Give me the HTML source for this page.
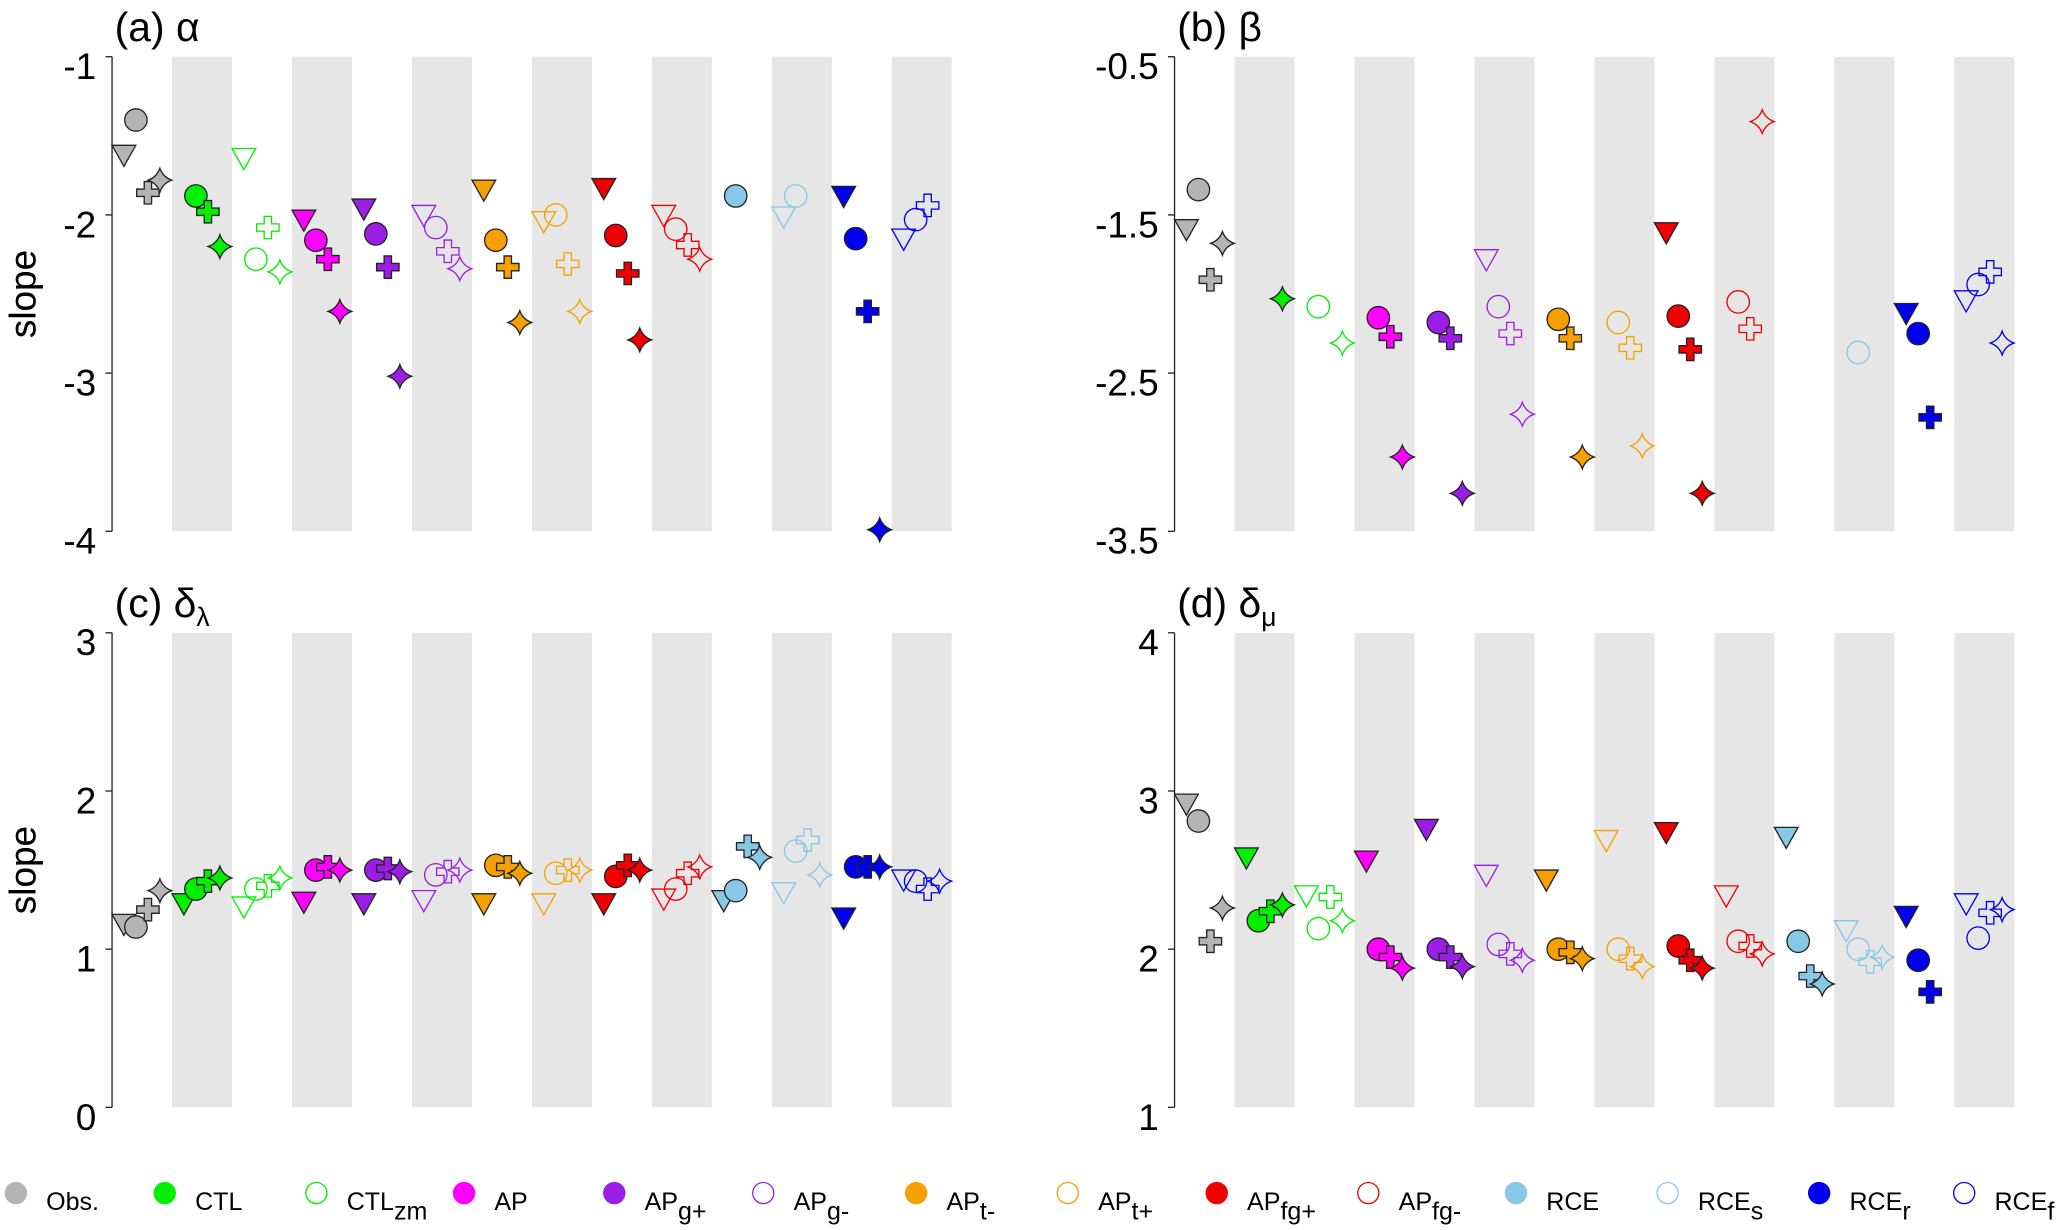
<!DOCTYPE html>
<html><head><meta charset="utf-8"><style>
html,body{margin:0;padding:0;background:#fff;}
svg{display:block;font-family:"Liberation Sans",sans-serif;}
</style></head><body>
<svg id="fig" width="2067" height="1230" viewBox="0 0 1568 933" xmlns="http://www.w3.org/2000/svg"></svg>
<script>
const groups = ["Obs.","CTL","CTLzm","AP","APg+","APg-","APt-","APt+","APfg+","APfg-","RCE","RCEs","RCEr","RCEf"];
const colors = ["#b4b4b4","#00f000","#00f000","#ff00ff","#9a1ee6","#9a1ee6","#f5a000","#f5a000","#f00000","#f00000","#87c8e6","#87c8e6","#0000f0","#0000f0"];
const filled = [true,true,false,true,true,false,true,false,true,false,true,false,true,false];
const N = null;
// panel (a) alpha: [triangle, circle, plus, star] per group
const alphaTri    = [-1.61,N,-1.63,-2.02,-1.95,-1.99,-1.83,-2.03,-1.82,-1.99,N,-2.00,-1.87,-2.14];
const alphaCirc   = [-1.40,-1.88,-2.28,-2.16,-2.12,-2.08,-2.16,-2.00,-2.13,-2.09,-1.88,-1.88,-2.15,-2.03];
const alphaPlus   = [-1.86,-1.98,-2.08,-2.28,-2.33,-2.23,-2.33,-2.31,-2.37,-2.19,N,N,-2.61,-1.94];
const alphaStar   = [-1.78,-2.20,-2.36,-2.61,-3.02,-2.34,-2.68,-2.61,-2.79,-2.28,N,N,-3.99,N];
// panel (b) beta
const betaTri  = [-1.58,N,N,N,N,-1.77,N,N,-1.60,N,N,N,-2.11,-2.03];
const betaCirc = [-1.34,N,-2.08,-2.15,-2.18,-2.08,-2.16,-2.18,-2.14,-2.05,N,-2.37,-2.25,-1.94];
const betaPlus = [-1.91,N,N,-2.27,-2.28,-2.25,-2.28,-2.34,-2.35,-2.22,N,N,-2.78,-1.86];
const betaStar = [-1.68,-2.03,-2.31,-3.03,-3.26,-2.76,-3.03,-2.96,-3.26,-0.91,N,N,N,-2.31];
// panel (c) delta_lambda
const dlTri  = [1.17,1.30,1.28,1.31,1.30,1.32,1.30,1.30,1.30,1.33,1.32,1.37,1.21,1.45];
const dlCirc = [1.14,1.38,1.38,1.50,1.50,1.47,1.53,1.48,1.46,1.38,1.37,1.62,1.52,1.43];
const dlPlus = [1.25,1.43,1.40,1.52,1.51,1.49,1.52,1.50,1.53,1.48,1.65,1.69,1.52,1.38];
const dlStar = [1.37,1.45,1.45,1.50,1.49,1.50,1.48,1.50,1.50,1.52,1.58,1.47,1.52,1.43];
// panel (d) delta_mu
const dmTri  = [2.93,2.59,2.35,2.57,2.77,2.48,2.45,2.70,2.75,2.35,2.72,2.13,2.22,2.30];
const dmCirc = [2.81,2.18,2.13,2.00,2.00,2.03,2.00,2.00,2.02,2.05,2.05,2.00,1.93,2.07];
const dmPlus = [2.05,2.24,2.33,1.95,1.95,1.97,1.98,1.94,1.93,2.02,1.83,1.92,1.73,2.23];
const dmStar = [2.26,2.28,2.18,1.88,1.89,1.93,1.94,1.89,1.88,1.97,1.78,1.95,N,2.25];
const ticksA = [-1,-2,-3,-4], ticksB = [-0.5,-1.5,-2.5,-3.5], ticksC = [3,2,1,0], ticksD = [4,3,2,1];

const NS = "http://www.w3.org/2000/svg";
const svg = document.getElementById("fig");
function mk(tag, attrs, parent){ const e=document.createElementNS(NS,tag); for(const k in attrs) e.setAttribute(k,attrs[k]); (parent||svg).appendChild(e); return e; }

const panels = [
 {id:"a", x0:85, y0:43, top:-1, bot:-4, ticks:ticksA, title:"(a) α", sub:"", series:[alphaTri,alphaCirc,alphaPlus,alphaStar]},
 {id:"b", x0:891, y0:43, top:-0.5, bot:-3.5, ticks:ticksB, title:"(b) β", sub:"", series:[betaTri,betaCirc,betaPlus,betaStar]},
 {id:"c", x0:85, y0:480, top:3, bot:0, ticks:ticksC, title:"(c) δ", sub:"λ", series:[dlTri,dlCirc,dlPlus,dlStar]},
 {id:"d", x0:891, y0:480, top:4, bot:1, ticks:ticksD, title:"(d) δ", sub:"μ", series:[dmTri,dmCirc,dmPlus,dmStar]}
];
const slotW = 45.5, H = 360;
const kinds = ["triangle","circle","plus","star"];

function drawMarker(g, kind, cx, cy, fill, stroke){
  let e;
  if(kind==="circle") e = mk("circle",{cx:cx,cy:cy,r:8.5,fill:fill,stroke:stroke,"stroke-width":1},g);
  else if(kind==="triangle") e = mk("path",{d:`M${cx-9},${cy-6}L${cx+9},${cy-6}L${cx},${cy+10}Z`,fill:fill,stroke:stroke,"stroke-width":1},g);
  else if(kind==="plus"){ const a=8.5,b=2.8; e = mk("path",{d:`M${cx-b},${cy-a}H${cx+b}V${cy-b}H${cx+a}V${cy+b}H${cx+b}V${cy+a}H${cx-b}V${cy+b}H${cx-a}V${cy-b}H${cx-b}Z`,fill:fill,stroke:stroke,"stroke-width":1},g); }
  else { const r=9,q=2.3; e = mk("path",{d:`M${cx},${cy-r}Q${cx+q},${cy-q} ${cx+r},${cy}Q${cx+q},${cy+q} ${cx},${cy+r}Q${cx-q},${cy+q} ${cx-r},${cy}Q${cx-q},${cy-q} ${cx},${cy-r}Z`,fill:fill,stroke:stroke,"stroke-width":1},g); }
  return e;
}

panels.forEach(p=>{
  const g = mk("g",{});
  
  
  const yS = v => p.y0 + (p.top - v)/(p.top - p.bot)*H;
  const xS = (gi, k) => p.x0 + gi*slotW + 9 + k*9.1;
  for(let i=1;i<14;i+=2){
    const b = mk("rect",{x:p.x0+i*slotW,y:p.y0,width:slotW,height:H,fill:"#e6e6e6"},g);
    
    
  }
  const ax = mk("line",{x1:p.x0,y1:p.y0,x2:p.x0,y2:p.y0+H,stroke:"#222","stroke-width":1},g);
  
  
  p.ticks.forEach(t=>{
    const y = yS(t);
    mk("line",{x1:p.x0-5,y1:y,x2:p.x0,y2:y,stroke:"#222","stroke-width":1},g);
    const tx = mk("text",{x:p.x0-12,y:y+17,"font-size":28,"text-anchor":"end",fill:"#000"},g);
    tx.textContent = String(t);
    
    
  });
  const yt = mk("text",{x:0,y:0,"font-size":28,"text-anchor":"middle",transform:`translate(27,${p.y0+H/2}) rotate(-90)`},g);
  yt.textContent = "slope";
  
  
  const tt = mk("text",{x:p.x0+2,y:p.y0-12,"font-size":31},g);
  tt.textContent = p.title;
  if(p.sub){ const s=mk("tspan",{"font-size":20,dy:7},tt); s.textContent=p.sub; }
  
  
  p.series.forEach((arr,k)=>{
    arr.forEach((v,gi)=>{
      if(v===null) return;
      const fill = filled[gi] ? colors[gi] : "none";
      const stroke = filled[gi] ? "#222" : colors[gi];
      const m = drawMarker(g, kinds[k], xS(gi,k), yS(v), fill, stroke);
      
      
    });
  });
});

// legend
const legX = [12,125,240,352,466,579,695,810,923,1038,1150,1265,1380,1490];
const legMain = ["Obs.","CTL","CTL","AP","AP","AP","AP","AP","AP","AP","RCE","RCE","RCE","RCE"];
const legSub  = ["","","zm","","g+","g-","t-","t+","fg+","fg-","","s","r","f"];
const lg = mk("g",{});


legX.forEach((x,i)=>{
  const c = mk("circle",{cx:x,cy:905,r:8,fill:filled[i]?colors[i]:"none",stroke:colors[i],"stroke-width":1},lg);
  
  
  const t = mk("text",{x:x+23,y:918,"font-size":19},lg);
  t.textContent = legMain[i];
  if(legSub[i]){ const s=mk("tspan",{dy:7,"font-size":19},t); s.textContent=legSub[i]; }
  
  
});
</script>
</body></html>
